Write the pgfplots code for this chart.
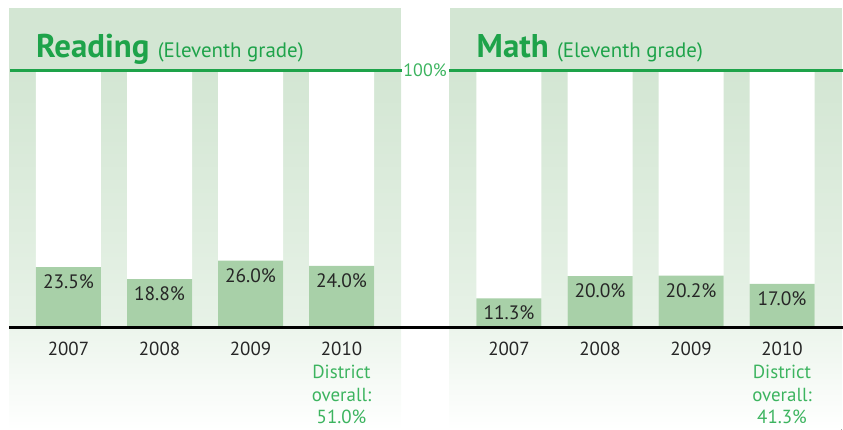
\documentclass[border=0pt]{standalone}
\usepackage{fontspec}
\setmainfont{PT Sans}
\usepackage{pgfplots}
\pgfplotsset{compat=1.18}
\definecolor{hdrgreen}{RGB}{211,230,211}
\definecolor{lowgreen}{RGB}{231,242,231}
\definecolor{subgreen}{RGB}{236,245,236}
\definecolor{bargreen}{RGB}{168,208,168}
\definecolor{titlegreen}{RGB}{30,163,74}
\definecolor{lightgreen}{RGB}{60,180,95}
\definecolor{inkgray}{RGB}{38,38,38}

\def\xa{-0.6538}
\def\xb{3.6538}
\pgfplotsset{
  panel/.style={
    scale only axis, width=392bp, height=422bp,
    xmin=\xa, xmax=\xb, ymin=-39.85, ymax=124.22,
    hide axis, clip=false,
    /pgf/number format/assume math mode=true,
  },
  bg/.style={ybar, bar width=65bp, bar shift=0pt, fill=white, draw=none},
  val/.style={ybar, bar width=65bp, bar shift=0pt, fill=bargreen, draw=none,
    point meta=y,
    nodes near coords={\pgfmathprintnumber[fixed,fixed zerofill,precision=1]{\pgfplotspointmeta}\%},
    every node near coord/.append style={anchor=north, inner sep=0pt, yshift=-7.5bp,
      text=inkgray, font=\fontsize{19.5}{22}\selectfont}},
}
\tikzset{yr/.style={anchor=north, inner sep=0pt, yshift=-14bp, text=inkgray,
    align=center, font=\fontsize{19}{23}\selectfont}}
\newcommand{\panelbg}{%
  \fill[hdrgreen] (axis cs:\xa,100) rectangle (axis cs:\xb,124.22);
  \fill[top color=hdrgreen, bottom color=lowgreen] (axis cs:\xa,0) rectangle (axis cs:\xb,100);
  \fill[top color=subgreen, bottom color=white] (axis cs:\xa,-39.85) rectangle (axis cs:\xb,0);
}
\newcommand{\paneltitle}[1]{%
  \node[anchor=base west, inner sep=0pt, text=titlegreen, yshift=12.7bp]
    at (axis cs:-0.357,100)
    {\fontsize{33}{33}\selectfont\bfseries #1 \fontsize{21}{21}\selectfont\mdseries(Eleventh grade)};
}
\newcommand{\years}[1]{%
  \node[yr] at (axis cs:0,0) {2007};
  \node[yr] at (axis cs:1,0) {2008};
  \node[yr] at (axis cs:2,0) {2009};
  \node[yr] at (axis cs:3,0) {2010\\\textcolor{lightgreen}{District}\\\textcolor{lightgreen}{overall:}\\\textcolor{lightgreen}{#1\%}};
}

\begin{document}
\begin{tikzpicture}
\useasboundingbox (0,0) rectangle (843bp,430bp);

% Reading
\begin{axis}[panel, at={(9bp,0bp)}, anchor=south west]
\panelbg
\addplot[bg] coordinates {(0,100) (1,100) (2,100) (3,100)};
\addplot[val] coordinates {(0,23.5) (1,18.8) (2,26.0) (3,24.0)};
\paneltitle{Reading}
\years{51.0}
\draw[titlegreen, line width=2.7bp] (axis cs:-0.6428,100) -- (axis cs:3.6615,100);
\node[text=lightgreen, font=\fontsize{18}{18}\selectfont] at (axis cs:3.918,100) {100\%};
\end{axis}

% Math
\begin{axis}[panel, at={(449.5bp,0bp)}, anchor=south west]
\panelbg
\addplot[bg] coordinates {(0,100) (1,100) (2,100) (3,100)};
\addplot[val] coordinates {(0,11.3) (1,20.0) (2,20.2) (3,17.0)};
\paneltitle{Math}
\years{41.3}
\draw[titlegreen, line width=2.7bp] (axis cs:-0.6593,100) -- (axis cs:3.670,100);
\draw[black, line width=2.7bp] (axis cs:-5.494,0) -- (axis cs:3.670,0);
\end{axis}
\end{tikzpicture}
\end{document}
